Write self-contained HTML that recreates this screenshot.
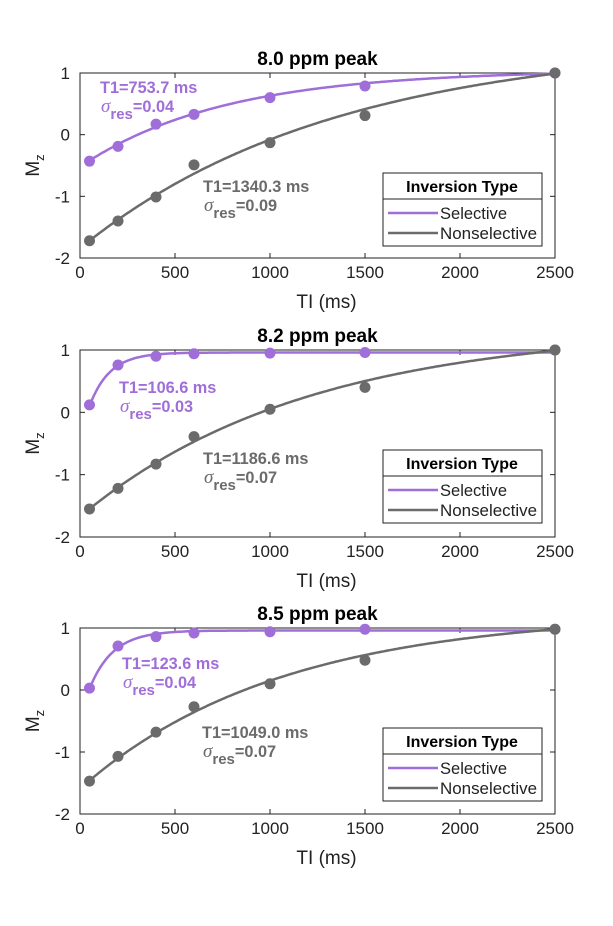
<!DOCTYPE html>
<html><head><meta charset="utf-8"><style>
body{margin:0;background:#fff;}
svg{display:block;font-family:"Liberation Sans",sans-serif;}
</style></head><body>
<svg id="chart" width="613" height="926" viewBox="0 0 613 926"></svg>
<script>
const tiValues=[50,200,400,600,1000,1500,2500];
const titles=["8.0 ppm peak","8.2 ppm peak","8.5 ppm peak"];
const selValues=[[-0.43,-0.19,0.17,0.33,0.6,0.79,1.0],[0.12,0.76,0.9,0.94,0.95,0.96,1.0],[0.03,0.71,0.86,0.92,0.94,0.98,0.98]];
const nonValues=[[-1.72,-1.4,-1.01,-0.49,-0.13,0.31,1.0],[-1.55,-1.22,-0.83,-0.39,0.05,0.4,1.0],[-1.47,-1.07,-0.68,-0.27,0.1,0.48,0.98]];
const selT1=[753.7,106.6,123.6];
const nonT1=[1340.3,1186.6,1049.0];
const selSigma=["0.04","0.03","0.04"];
const nonSigma=["0.09","0.07","0.07"];
const selFitStart=[-0.42,0.10,0.02];
const selFitEnd=[0.99,0.96,0.96];
const nonFitStart=[-1.72,-1.55,-1.46];
const nonFitEnd=[0.99,0.99,0.98];
const xTicks=[0,500,1000,1500,2000,2500];
const yTicks=[1,0,-1,-2];
const selLabelPos=[[100,93],[119,393],[122,669]];
const nonLabelPos=[[203,192],[203,464],[202,738]];

const NS="http://www.w3.org/2000/svg";
const svg=document.getElementById('chart');
const PUR="#a06ed8", GRY="#6b6b6b";
function el(tag,attrs,parent){const e=document.createElementNS(NS,tag);for(const k in attrs)e.setAttribute(k,attrs[k]);(parent||svg).appendChild(e);return e;}
const L=80,R=555;
const tops=[73,350,628], bots=[258,537,814];
for(let p=0;p<3;p++){
  const T=tops[p],B=bots[p];
  const xs=v=>L+(v/2500)*(R-L);
  const ys=v=>T+(1-v)/3*(B-T);
  const g=el('g',{});
  
  
  const t=el('text',{x:(L+R)/2,y:T-8,'text-anchor':'middle','font-size':19,'font-weight':'bold',fill:'#000'},g);t.textContent=titles[p];
  
  const box=el('rect',{x:L,y:T,width:R-L,height:B-T,fill:'none',stroke:'#222','stroke-width':1},g);
  
  xTicks.forEach(v=>{
    el('line',{x1:xs(v),x2:xs(v),y1:B,y2:B-5,stroke:'#222'},g);
    el('line',{x1:xs(v),x2:xs(v),y1:T,y2:T+5,stroke:'#222'},g);
    const tx=el('text',{x:xs(v),y:B+20,'text-anchor':'middle','font-size':17,fill:'#222'},g);tx.textContent=v;
    
  });
  yTicks.forEach(v=>{
    el('line',{x1:L,x2:L+5,y1:ys(v),y2:ys(v),stroke:'#222'},g);
    el('line',{x1:R,x2:R-5,y1:ys(v),y2:ys(v),stroke:'#222'},g);
    const ty=el('text',{x:L-10,y:ys(v)+6,'text-anchor':'end','font-size':17,fill:'#222'},g);ty.textContent=v;
    
  });
  const xl=el('text',{x:(L+R)/2+9,y:B+50,'text-anchor':'middle','font-size':19,fill:'#222'},g);xl.textContent="TI (ms)";
  
  const yl=el('text',{x:0,y:0,transform:`translate(39,${(T+B)/2}) rotate(-90)`,'text-anchor':'middle','font-size':19,fill:'#222'},g);
  yl.innerHTML='M<tspan font-size="13" dy="5">z</tspan>';
  
  const series=[[selValues[p],selT1[p],selFitStart[p],selFitEnd[p],PUR,'selective'],[nonValues[p],nonT1[p],nonFitStart[p],nonFitEnd[p],GRY,'nonselective']];
  series.forEach(([vals,T1,f0,f1,col,nm])=>{
    const e0=Math.exp(-50/T1),e1=Math.exp(-2500/T1);
    const Bc=(f1-f0)/(e0-e1),A=f1+Bc*e1;
    let d='';
    for(let t=50;t<=2500;t+=10){const v=A-Bc*Math.exp(-t/T1);d+=(t===50?'M':'L')+xs(t).toFixed(1)+' '+ys(v).toFixed(1);}
    const pa=el('path',{d:d,fill:'none',stroke:col,'stroke-width':2.5},g);
    
    vals.forEach((v,i)=>{
      const c=el('circle',{cx:xs(tiValues[i]),cy:ys(v),r:5.5,fill:col},g);
      
    });
  });
  [[selLabelPos[p],selT1[p],selSigma[p],PUR,'selective'],[nonLabelPos[p],nonT1[p],nonSigma[p],GRY,'nonselective']].forEach(([pos,T1,s,col,nm])=>{
    const a=el('text',{x:pos[0],y:pos[1],'font-size':16.3,'font-weight':'bold',fill:col},g);a.textContent='T1='+T1.toFixed(1)+' ms';
    
    const b=el('text',{x:pos[0]+1,y:pos[1]+19,'font-size':16.3,'font-weight':'bold',fill:col},g);
    b.innerHTML='<tspan font-family="Liberation Serif,serif" font-style="italic" font-weight="normal" font-size="19">σ</tspan><tspan dy="7" font-size="15">res</tspan><tspan dy="-7">='+s+'</tspan>';
    
  });
  const ly=T+100;
  const lg=el('g',{},g);
  
  el('rect',{x:383,y:ly,width:159,height:73,fill:'#fff',stroke:'#222'},lg);
  el('line',{x1:383,x2:542,y1:ly+26,y2:ly+26,stroke:'#222'},lg);
  const lt=el('text',{x:462,y:ly+19,'text-anchor':'middle','font-size':16,'font-weight':'bold',fill:'#000'},lg);lt.textContent='Inversion Type';
  
  [['Selective',PUR,ly+40],['Nonselective',GRY,ly+60]].forEach(([n,c,y])=>{
    el('line',{x1:388,x2:438,y1:y,y2:y,stroke:c,'stroke-width':2.5},lg);
    const tt=el('text',{x:440,y:y+6,'font-size':16.5,fill:'#222',textLength:n==='Selective'?67:97,lengthAdjust:'spacingAndGlyphs'},lg);tt.textContent=n;
    
  });
}
</script>
</body></html>
